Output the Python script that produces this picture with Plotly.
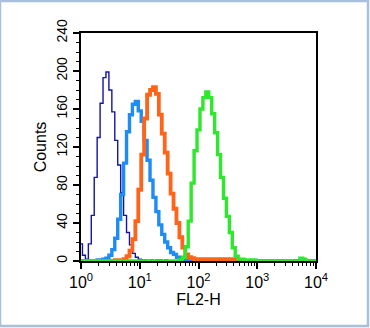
import numpy as np
import plotly.graph_objects as go

# channel positions (log10 of FL2-H), 0.05-decade bins
log_channels = [round(i * 0.05, 2) for i in range(81)]

navy_counts = [18, 6, 2, 18, 48, 88, 130, 166, 193, 199,
               180, 157, 127, 101, 72, 48, 30, 17, 8, 4,
               2, 1, 1, 0, 1, 0, 1, 1, 0, 1,
               0, 0, 0, 0, 0, 0, 0, 0, 0, 0,
               0, 0, 0, 0, 0, 0, 0, 0, 0, 0,
               0, 0, 0, 0, 0, 0, 0, 0, 0, 0,
               0, 0, 0, 0, 0, 0, 0, 0, 0, 0,
               0, 0, 0, 0, 0, 0, 0, 0, 0, 0, 0]

lightblue_counts = [0, 0, 0, 0, 0, 0, 1, 1, 2, 3,
                    6, 12, 24, 44, 70, 103, 136, 154, 165, 168,
                    158, 147, 127, 106, 85, 67, 52, 38, 28, 20,
                    14, 9, 7, 4, 3, 2, 1, 1, 0, 0,
                    0, 0, 0, 0, 0, 0, 0, 0, 0, 0,
                    0, 0, 0, 0, 0, 0, 0, 0, 0, 0,
                    0, 0, 0, 0, 0, 0, 0, 0, 0, 0,
                    0, 0, 0, 0, 0, 0, 0, 0, 0, 0, 0]

orange_counts = [0, 0, 0, 0, 0, 0, 0, 0, 0, 0,
                 0, 0, 1, 1, 1, 2, 5, 11, 23, 42,
                 75, 112, 150, 175, 180, 183, 176, 154, 134, 114,
                 92, 71, 55, 40, 25, 14, 7, 4, 3, 2,
                 2, 2, 2, 2, 2, 2, 2, 2, 2, 2,
                 2, 2, 2, 1, 0, 0, 0, 0, 0, 0,
                 0, 0, 0, 0, 0, 0, 0, 0, 0, 0,
                 0, 0, 0, 0, 0, 0, 0, 0, 0, 0, 0]

green_counts = [0, 0, 0, 0, 0, 0, 0, 0, 0, 0,
                0, 0, 0, 0, 0, 0, 0, 0, 0, 0,
                0, 0, 0, 0, 0, 0, 0, 0, 0, 0,
                0, 0, 0, 0, 1, 4, 15, 42, 82, 116,
                138, 160, 172, 178, 172, 155, 135, 112, 88, 66,
                47, 30, 14, 5, 2, 2, 1, 1, 1, 1,
                0, 0, 0, 0, 0, 0, 0, 0, 0, 0,
                0, 0, 0, 0, 0, 3, 2, 0, 0, 0, 0]

x_tickvals = [1, 10, 100, 1000, 10000]
x_ticktext = ["10<sup>0</sup>", "10<sup>1</sup>", "10<sup>2</sup>", "10<sup>3</sup>", "10<sup>4</sup>"]
y_tickvals = [0, 40, 80, 120, 160, 200, 240]

x_vals = [10 ** v for v in log_channels]

series = [
    (navy_counts, "#1414a8", 1.4),
    (lightblue_counts, "#1e8cf5", 3.4),
    (orange_counts, "#ff6418", 3.8),
    (green_counts, "#2ee82e", 3.4),
]

fig = go.Figure()
for counts, color, w in series:
    fig.add_trace(go.Scatter(x=x_vals, y=counts, mode="lines",
                             line=dict(color=color, width=w, shape="hvh"),
                             showlegend=False, hoverinfo="skip"))

font_family = "Liberation Sans, Arial, sans-serif"

fig.update_layout(
    width=370, height=328,
    margin=dict(l=81, r=54, t=33, b=67),
    paper_bgcolor="white", plot_bgcolor="white",
    font=dict(family=font_family, color="black", size=14),
    xaxis=dict(type="log", range=[0, 4], tickvals=x_tickvals, ticktext=x_ticktext,
               ticks="outside", ticklen=6, tickwidth=1.5, tickcolor="black",
               minor=dict(ticks="outside", ticklen=3, tickcolor="black", tickwidth=1,
                          dtick="D1"),
               showline=True, linecolor="black", linewidth=2, mirror=True,
               showgrid=False, zeroline=False,
               tickfont=dict(size=16),
               title=dict(text="FL2-H", font=dict(size=16), standoff=4)),
    yaxis=dict(range=[0, 240], tickvals=y_tickvals, tickangle=-90,
               ticks="outside", ticklen=6, tickwidth=1.5, tickcolor="black",
               minor=dict(ticks="outside", ticklen=3, tickcolor="black", tickwidth=1,
                          dtick=10),
               showline=True, linecolor="black", linewidth=2, mirror=True,
               showgrid=False, zeroline=False,
               tickfont=dict(size=14),
               title=dict(text="Counts", font=dict(size=16), standoff=4)),
    shapes=[dict(type="rect", xref="paper", yref="paper", layer="below",
                 x0=-81/235, x1=1 + 52/235, y0=-65/228, y1=1 + 32/228,
                 line=dict(color="#a8c0dc", width=2.5), fillcolor="rgba(0,0,0,0)")],
)

fig.write_html("out.html")
